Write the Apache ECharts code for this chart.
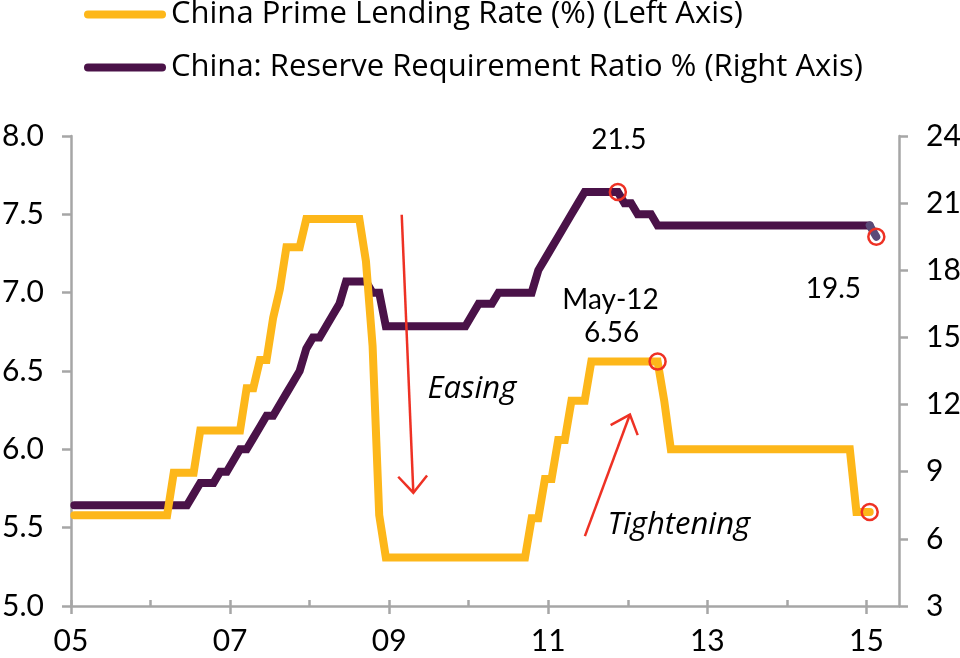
<!DOCTYPE html>
<html>
<head>
<meta charset="utf-8">
<script src="https://cdn.jsdelivr.net/npm/echarts@6/dist/echarts.min.js"></script>
<style>
html,body{margin:0;padding:0;background:#ffffff;}
#chart{width:960px;height:658px;}
</style>
</head>
<body>
<div id="chart"></div>
<script>
// ---------------- DATA ----------------
const rateName = 'China Prime Lending Rate (%) (Left Axis)';
const rrrName = 'China: Reserve Requirement Ratio % (Right Axis)';

// Prime lending rate: months where the line bends, and the value there
const rateMonths = ['2005-01','2006-03','2006-04','2006-07','2006-08','2007-02','2007-03','2007-04','2007-05','2007-06','2007-07','2007-08','2007-09','2007-11','2007-12','2008-08','2008-09','2008-10','2008-11','2008-12','2010-09','2010-10','2010-11','2010-12','2011-01','2011-02','2011-03','2011-04','2011-06','2011-07','2012-05','2012-06','2012-07','2014-10','2014-11','2015-01'];
const rateValues = [5.58,5.58,5.85,5.85,6.12,6.12,6.39,6.39,6.57,6.57,6.84,7.02,7.29,7.29,7.47,7.47,7.20,6.66,5.58,5.31,5.31,5.56,5.56,5.81,5.81,6.06,6.06,6.31,6.31,6.56,6.56,6.31,6.00,6.00,5.60,5.60];

// Reserve requirement ratio: months where the line bends, and the value there
const rrrMonths = ['2005-01','2006-06','2006-07','2006-08','2006-10','2006-11','2006-12','2007-01','2007-02','2007-03','2007-04','2007-05','2007-06','2007-07','2007-08','2007-09','2007-10','2007-11','2007-12','2008-01','2008-02','2008-03','2008-04','2008-05','2008-06','2008-09','2008-10','2008-11','2008-12','2009-12','2010-01','2010-02','2010-04','2010-05','2010-10','2010-11','2010-12','2011-01','2011-02','2011-03','2011-04','2011-05','2011-06','2011-11','2011-12','2012-01','2012-02','2012-04','2012-05','2015-01','2015-02'];
const rrrValues = [7.5,7.5,8.0,8.5,8.5,9.0,9.0,9.5,10.0,10.0,10.5,11.0,11.5,11.5,12.0,12.5,13.0,13.5,14.5,15.0,15.0,15.5,16.0,16.5,17.5,17.5,17.0,17.0,15.5,15.5,16.0,16.5,16.5,17.0,17.0,18.0,18.5,19.0,19.5,20.0,20.5,21.0,21.5,21.5,21.0,21.0,20.5,20.5,20.0,20.0,19.5];

// Axis ticks
const xLabelYears = [2005,2007,2009,2011,2013,2015];
const xTickLabels = ['05','07','09','11','13','15'];
const xAllYears = [2005,2006,2007,2008,2009,2010,2011,2012,2013,2014,2015];

// ---------------- STYLE ----------------
const YELLOW = '#FDB71A';
const PURPLE = '#4A1248';
const PURPLE_END = '#5A4A78';
const RED = '#EE3124';
const AXIS = '#A6A6A6';
const FONT = 'Lato';
const FONT2 = 'Open Sans';

function monthPos(s) {
  const p = s.split('-').map(Number);
  return p[0] + (p[1] - 0.5) / 12;
}
const ratePts = rateMonths.map((m, i) => [monthPos(m), rateValues[i]]);
const rrrPts = rrrMonths.map((m, i) => [monthPos(m), rrrValues[i]]);

const capsule = 'path://M4 0H78A4 4 0 0 1 78 8H4A4 4 0 0 1 4 0Z';

const circleMark = {
  symbol: 'circle',
  symbolSize: 16,
  silent: true,
  label: { show: false },
  itemStyle: { color: 'rgba(255,255,255,0)', borderColor: RED, borderWidth: 2.5 }
};

const axisLineStyle = { color: AXIS, width: 2.5 };

const chart = echarts.init(document.getElementById('chart'), null, { renderer: 'canvas' });

const option = {
  animation: false,
  backgroundColor: '#ffffff',
  textStyle: { fontFamily: FONT },
  grid: { left: 71, right: 61, top: 136, bottom: 52, containLabel: false, outerBoundsMode: 'none' },
  legend: {
    orient: 'vertical',
    left: 84,
    top: -1,
    padding: 0,
    itemWidth: 82,
    itemHeight: 8,
    itemGap: 22,
    selectedMode: false,
    textStyle: { fontFamily: FONT2, fontSize: 31, color: '#000', lineHeight: 31 },
    data: [
      { name: rateName, icon: capsule },
      { name: rrrName, icon: capsule }
    ]
  },
  xAxis: [
    {
      type: 'value', min: 2005, max: 2015.41, interval: 1, position: 'bottom',
      axisLine: { show: true, lineStyle: axisLineStyle },
      axisTick: { show: true, customValues: xLabelYears, length: 8, lineStyle: axisLineStyle },
      axisLabel: {
        customValues: xLabelYears, margin: 20, fontSize: 30, color: '#000', fontFamily: FONT,
        formatter: v => xTickLabels[xLabelYears.indexOf(Math.round(v))] || ''
      },
      splitLine: { show: false }
    },
    {
      type: 'value', min: 2005, max: 2015.41, interval: 1, position: 'bottom',
      axisLine: { show: false },
      axisTick: { show: true, inside: true, customValues: xAllYears, length: 6, lineStyle: axisLineStyle },
      axisLabel: { show: false },
      splitLine: { show: false }
    }
  ],
  yAxis: [
    {
      type: 'value', min: 5, max: 8, interval: 0.5, position: 'left',
      axisLine: { show: true, lineStyle: axisLineStyle },
      axisTick: { show: true, length: 9, lineStyle: axisLineStyle },
      axisLabel: { margin: 27, fontSize: 30, color: '#000', fontFamily: FONT, formatter: v => v.toFixed(1) },
      splitLine: { show: false }
    },
    {
      type: 'value', min: 3, max: 24, interval: 3, position: 'right',
      axisLine: { show: true, lineStyle: axisLineStyle },
      axisTick: { show: true, length: 9, lineStyle: axisLineStyle },
      axisLabel: { margin: 27, fontSize: 30, color: '#000', fontFamily: FONT },
      splitLine: { show: false }
    }
  ],
  series: [
    {
      name: rrrName, type: 'line', xAxisIndex: 0, yAxisIndex: 1,
      data: rrrPts.slice(0, -1),
      showSymbol: false, symbol: 'none', z: 2,
      lineStyle: { color: PURPLE, width: 8, cap: 'round', join: 'miter' },
      itemStyle: { color: PURPLE }
    },
    {
      name: 'rrr-end', type: 'line', xAxisIndex: 0, yAxisIndex: 1,
      data: rrrPts.slice(-2),
      showSymbol: false, symbol: 'none', z: 2,
      lineStyle: { color: PURPLE_END, width: 8, cap: 'round', join: 'miter' },
      itemStyle: { color: PURPLE_END },
      markPoint: Object.assign({}, circleMark, {
        data: [
          { coord: rrrPts[rrrMonths.indexOf('2011-11')] },
          { coord: rrrPts[rrrPts.length - 1] }
        ]
      })
    },
    {
      name: rateName, type: 'line', xAxisIndex: 0, yAxisIndex: 0,
      data: ratePts,
      showSymbol: false, symbol: 'none', z: 3,
      lineStyle: { color: YELLOW, width: 8, cap: 'round', join: 'miter' },
      itemStyle: { color: YELLOW },
      markPoint: Object.assign({}, circleMark, {
        data: [
          { coord: ratePts[rateMonths.indexOf('2012-05')] },
          { coord: ratePts[ratePts.length - 1] }
        ]
      })
    }
  ]
};
chart.setOption(option);

// ---------------- ANNOTATIONS ----------------
function px(pt, yAxisIndex) {
  return chart.convertToPixel({ xAxisIndex: 0, yAxisIndex: yAxisIndex }, pt);
}
const rrrPeak = px(rrrPts[rrrMonths.indexOf('2011-11')], 1);
const rrrLast = px(rrrPts[rrrPts.length - 1], 1);
const rateMay12 = px(ratePts[rateMonths.indexOf('2012-05')], 0);

const textItems = [
  { text: '21.5', at: rrrPeak, dx: 1, dy: -52, italic: false },
  { text: '19.5', at: rrrLast, dx: -43, dy: 52, italic: false },
  { text: 'May-12', at: rateMay12, dx: -47, dy: -62, italic: false },
  { text: '6.56', at: rateMay12, dx: -46, dy: -29, italic: false },
  { text: 'Easing', at: px([2010.04, 6.381], 0), dx: 0, dy: 0, italic: true },
  { text: 'Tightening', at: px([2012.642, 5.514], 0), dx: 0, dy: 0, italic: true }
];

const arrows = [
  { from: px([2009.158, 7.497], 0), to: px([2009.304, 5.723], 0) },
  { from: px([2011.461, 5.446], 0), to: px([2012.027, 6.222], 0) }
];

const graphics = [];
textItems.forEach(t => {
  graphics.push({
    type: 'text', x: t.at[0] + t.dx, y: t.at[1] + t.dy, z: 10,
    style: {
      text: t.text, fontFamily: t.italic ? FONT2 : FONT, fontSize: t.italic ? 31 : 28, fill: '#000',
      fontStyle: t.italic ? 'italic' : 'normal',
      align: 'center', verticalAlign: 'middle'
    }
  });
});
arrows.forEach(a => {
  const dx = a.to[0] - a.from[0], dy = a.to[1] - a.from[1];
  const len = Math.sqrt(dx * dx + dy * dy);
  const ux = dx / len, uy = dy / len;
  const L = 22, th = 41 * Math.PI / 180;
  const arm = s => {
    const c = Math.cos(s * th), sn = Math.sin(s * th);
    const rx = ux * c - uy * sn, ry = ux * sn + uy * c;
    return [a.to[0] - L * rx, a.to[1] - L * ry];
  };
  graphics.push({
    type: 'line', z: 10,
    shape: { x1: a.from[0], y1: a.from[1], x2: a.to[0], y2: a.to[1] },
    style: { stroke: RED, lineWidth: 2.5 }
  });
  graphics.push({
    type: 'polyline', z: 10,
    shape: { points: [arm(1), a.to, arm(-1)] },
    style: { stroke: RED, lineWidth: 2.5, fill: null }
  });
});
chart.setOption({ graphic: graphics });
</script>
</body>
</html>
